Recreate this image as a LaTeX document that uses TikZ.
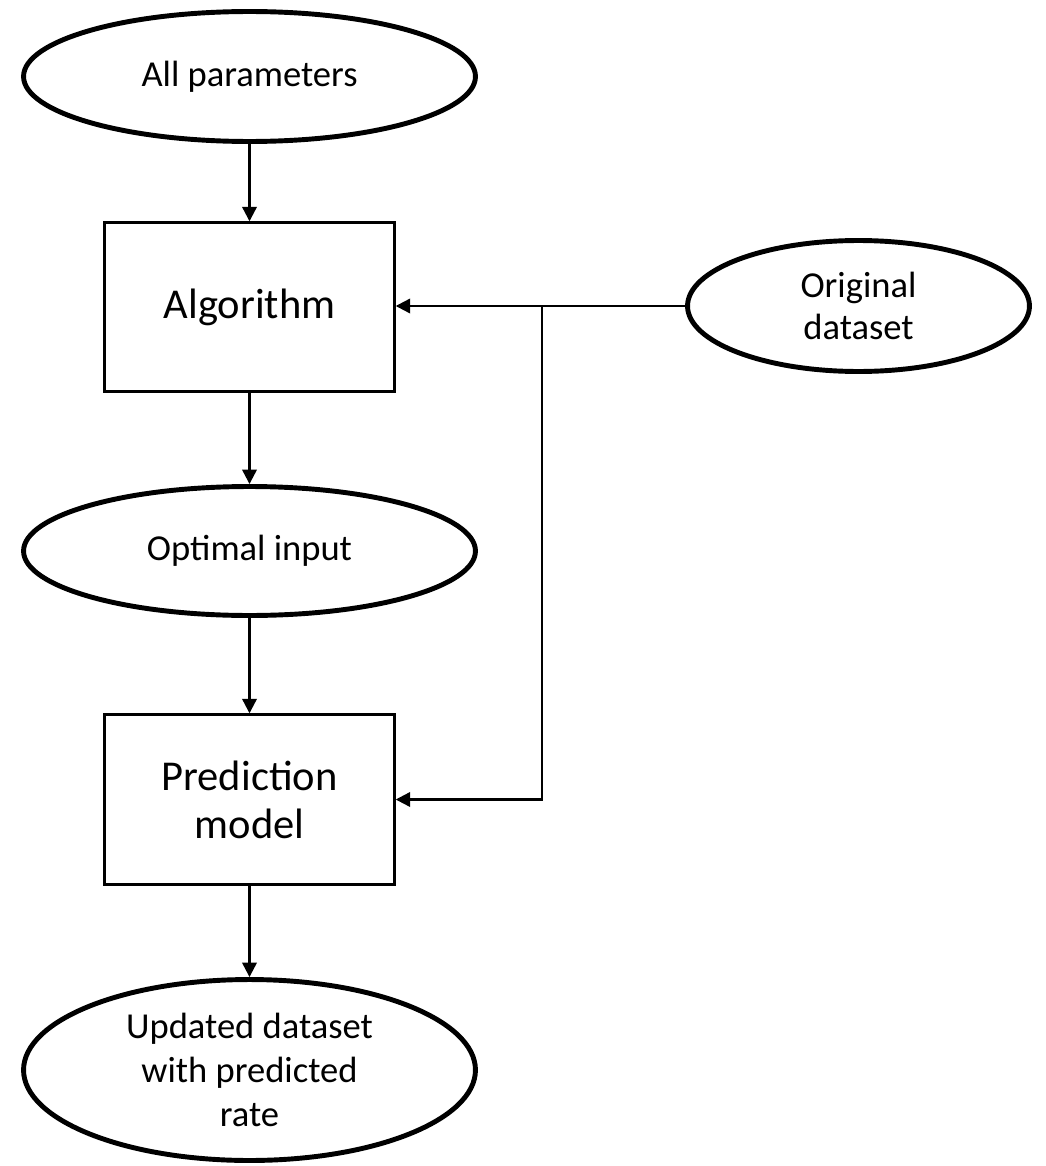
\documentclass[tikz,border=0pt]{standalone}
\usepackage{fontspec}
\setmainfont{Carlito}
\usepackage{tikz}
\usetikzlibrary{arrows.meta,positioning,shapes.geometric}
\tikzset{
  datum/.style={ellipse, draw=black, line width=2.8pt, inner sep=0pt,
    minimum width=9.04cm, align=center, font=\fontsize{20.8}{25}\selectfont},
  proc/.style={draw=black, line width=1.4pt, inner sep=0pt,
    minimum width=5.8cm, align=center, font=\fontsize{24.2}{27.2}\selectfont},
  flow/.style={-{Triangle[length=2.9mm,width=2.9mm]}, line width=1.3pt}
}

\begin{document}
\begin{tikzpicture}[x=0.02cm, y=-0.02cm]
  \useasboundingbox (0,0) rectangle (1045,1166);

  % main column
  \node[datum, minimum height=2.6cm] (allparam) at (249.5,76.5) {All parameters};
  \node[proc, minimum height=3.38cm] (algo) at (249.5,307) {Algorithm};
  \node[datum, minimum height=2.58cm] (optinput) at (249.5,551) {Optimal input};
  \node[proc, minimum height=3.4cm] (predmodel) at (249.5,799.5) {Prediction\\model};
  \node[datum, minimum height=3.62cm] (updated) at (249.5,1070)
    {Updated dataset\\with predicted\\rate};

  % side input
  \node[datum, minimum width=6.84cm, minimum height=2.62cm,
    font=\fontsize{20.8}{24}\selectfont] (origdata) at (858.5,306) {Original\\dataset};
  \coordinate (split) at (542,306);

  \draw[flow] (allparam) -- (algo);
  \draw[flow] (algo) -- (optinput);
  \draw[flow] (optinput) -- (predmodel);
  \draw[flow] (predmodel) -- (updated);
  \draw[flow] (origdata.west) -- (algo.east |- origdata.west);
  \draw[flow] (split) |- (predmodel.east);
\end{tikzpicture}
\end{document}
